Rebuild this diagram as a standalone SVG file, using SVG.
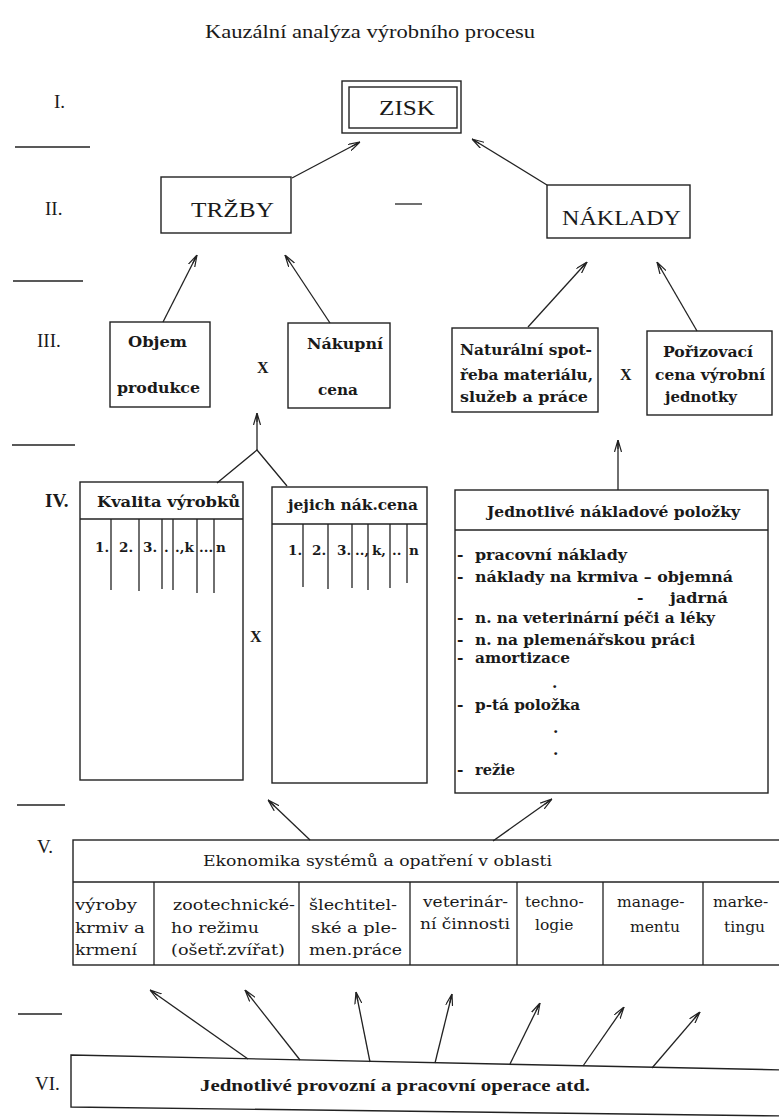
<svg xmlns="http://www.w3.org/2000/svg" width="779" height="1117" viewBox="0 0 779 1117">
<style>
  .bg{fill:#fff}
  .box{fill:#fff;stroke:#222;stroke-width:1.4}
  .ln{stroke:#222;stroke-width:1.3;fill:none}
  .arr{stroke:#222;stroke-width:1.3;fill:none;marker-end:url(#ah)}
  .t{font-family:"Liberation Serif","Times New Roman",serif;fill:#1a1a1a}
  .c{font-family:"DejaVu Serif","Liberation Serif",serif;fill:#1a1a1a;font-size:15.5px}
  .h{font-family:"DejaVu Serif","Liberation Serif",serif;fill:#1a1a1a;font-size:15px}
  .n{font-family:"DejaVu Serif","Liberation Serif",serif;fill:#1a1a1a;font-size:13.5px;font-weight:bold}
  .v{font-family:"DejaVu Serif","Liberation Serif",serif;fill:#1a1a1a;font-size:15.5px}
  .b{font-weight:bold}
  .lvl{font-size:19px}
  .big{font-size:22px}
  .x{font-family:"Liberation Serif","Times New Roman",serif;font-weight:bold;font-size:16px;fill:#1a1a1a}
</style>
<defs>
  <marker id="ah" viewBox="0 0 12 8" refX="12" refY="4" markerWidth="12" markerHeight="8" markerUnits="userSpaceOnUse" orient="auto">
    <path d="M0,0.5 L12,4 L0,7.5 M12,4 L3,4" fill="none" stroke="#222" stroke-width="1.2"/>
  </marker>
</defs>
<rect class="bg" x="0" y="0" width="779" height="1117"/>

<text class="t" x="205" y="38" font-size="18" textLength="330" lengthAdjust="spacingAndGlyphs">Kauzální analýza výrobního procesu</text>

<g id="levels">
  <text class="t lvl" x="54" y="108">I.</text>
  <text class="t lvl" x="45" y="215">II.</text>
  <text class="t lvl" x="37" y="347">III.</text>
  <text class="t lvl b" x="45" y="507">IV.</text>
  <text class="t lvl" x="37" y="853">V.</text>
  <text class="t lvl" x="35" y="1090">VI.</text>
  <line class="ln" x1="15" y1="147" x2="90" y2="147"/>
  <line class="ln" x1="13" y1="281" x2="83" y2="281"/>
  <line class="ln" x1="12" y1="445" x2="75" y2="445"/>
  <line class="ln" x1="17" y1="805" x2="65" y2="805"/>
  <line class="ln" x1="18" y1="1014" x2="62" y2="1014"/>
</g>

<g id="zisk">
  <rect class="box" x="342" y="81" width="119" height="52"/>
  <rect class="box" x="349" y="87" width="108" height="41"/>
  <text class="t big" x="379" y="115" textLength="56" lengthAdjust="spacingAndGlyphs">ZISK</text>
</g>

<g id="trzby">
  <rect class="box" x="161" y="177" width="130" height="56"/>
  <text class="t big" x="191" y="217" textLength="83" lengthAdjust="spacingAndGlyphs">TRŽBY</text>
</g>

<g id="minus">
  <line class="ln" x1="395" y1="204" x2="422" y2="204"/>
</g>

<g id="naklady">
  <rect class="box" x="547" y="185" width="143" height="53"/>
  <text class="t big" x="562" y="225" textLength="119" lengthAdjust="spacingAndGlyphs">NÁKLADY</text>
</g>

<g id="objem">
  <rect class="box" x="110" y="322" width="100" height="85"/>
  <text class="c b" x="128" y="347" textLength="59" lengthAdjust="spacingAndGlyphs">Objem</text>
  <text class="c b" x="117" y="393" textLength="83" lengthAdjust="spacingAndGlyphs">produkce</text>
</g>

<g id="x1"><text class="x" x="257" y="373">X</text></g>

<g id="nakupni">
  <rect class="box" x="288" y="323" width="102" height="85"/>
  <text class="c b" x="307" y="349" textLength="76" lengthAdjust="spacingAndGlyphs">Nákupní</text>
  <text class="c b" x="318" y="395" textLength="40" lengthAdjust="spacingAndGlyphs">cena</text>
</g>

<g id="naturalni">
  <rect class="box" x="452" y="328" width="146" height="84"/>
  <text class="c b" x="460" y="355" textLength="132" lengthAdjust="spacingAndGlyphs">Naturální spot-</text>
  <text class="c b" x="460" y="380" textLength="133" lengthAdjust="spacingAndGlyphs">řeba materiálu,</text>
  <text class="c b" x="460" y="402" textLength="128" lengthAdjust="spacingAndGlyphs">služeb  a práce</text>
</g>

<g id="x2"><text class="x" x="620" y="380">X</text></g>

<g id="porizovaci">
  <rect class="box" x="647" y="331" width="125" height="84"/>
  <text class="c b" x="663" y="357" textLength="90" lengthAdjust="spacingAndGlyphs">Pořizovací</text>
  <text class="c b" x="655" y="380" textLength="110" lengthAdjust="spacingAndGlyphs">cena výrobní</text>
  <text class="c b" x="665" y="402" textLength="72" lengthAdjust="spacingAndGlyphs">jednotky</text>
</g>

<g id="kvalita">
  <rect class="box" x="80" y="482" width="163" height="298"/>
  <line class="ln" x1="80" y1="519" x2="243" y2="519"/>
  <text class="h b" x="97" y="507" textLength="143" lengthAdjust="spacingAndGlyphs">Kvalita výrobků</text>
  <g class="ln">
    <line x1="111" y1="519" x2="111" y2="590"/>
    <line x1="139" y1="519" x2="139" y2="591"/>
    <line x1="162" y1="519" x2="162" y2="589"/>
    <line x1="173" y1="519" x2="173" y2="590"/>
    <line x1="197" y1="519" x2="197" y2="593"/>
    <line x1="214" y1="519" x2="214" y2="593"/>
  </g>
  <text class="n" x="95" y="552">1.</text>
  <text class="n" x="119" y="552">2.</text>
  <text class="n" x="143" y="552">3.</text>
  <text class="n" x="164" y="552">.</text>
  <text class="n" x="175" y="552">.,k</text>
  <text class="n" x="199" y="552">...</text>
  <text class="n" x="216" y="552">n</text>
</g>

<g id="x3"><text class="x" x="250" y="642">X</text></g>

<g id="jejich">
  <rect class="box" x="272" y="487" width="155" height="296"/>
  <line class="ln" x1="272" y1="524" x2="427" y2="524"/>
  <text class="h b" x="288" y="510" textLength="130" lengthAdjust="spacingAndGlyphs">jejich nák.cena</text>
  <g class="ln">
    <line x1="303" y1="524" x2="303" y2="587"/>
    <line x1="328" y1="524" x2="328" y2="589"/>
    <line x1="352" y1="524" x2="352" y2="588"/>
    <line x1="368" y1="524" x2="368" y2="590"/>
    <line x1="390" y1="524" x2="390" y2="588"/>
    <line x1="407" y1="524" x2="407" y2="583"/>
  </g>
  <text class="n" x="288" y="555">1.</text>
  <text class="n" x="312" y="555">2.</text>
  <text class="n" x="337" y="555">3.</text>
  <text class="n" x="355" y="555">..,</text>
  <text class="n" x="372" y="555">k,</text>
  <text class="n" x="392" y="555">..</text>
  <text class="n" x="409" y="555">n</text>
</g>

<g id="polozky">
  <rect class="box" x="455" y="490" width="313" height="303"/>
  <line class="ln" x1="455" y1="530" x2="768" y2="530"/>
  <text class="h b" x="487" y="517" textLength="253" lengthAdjust="spacingAndGlyphs">Jednotlivé nákladové položky</text>
  <g class="c b">
    <text x="457" y="560">-</text>
    <text x="475" y="560" textLength="152" lengthAdjust="spacingAndGlyphs">pracovní náklady</text>
    <text x="457" y="582">-</text>
    <text x="475" y="582" textLength="258" lengthAdjust="spacingAndGlyphs">náklady na krmiva – objemná</text>
    <text x="637" y="603">-</text>
    <text x="670" y="603" textLength="58" lengthAdjust="spacingAndGlyphs">jadrná</text>
    <text x="457" y="623">-</text>
    <text x="475" y="623" textLength="240" lengthAdjust="spacingAndGlyphs">n. na veterinární péči a léky</text>
    <text x="457" y="645">-</text>
    <text x="475" y="645" textLength="220" lengthAdjust="spacingAndGlyphs">n. na plemenářskou práci</text>
    <text x="457" y="663">-</text>
    <text x="475" y="663" textLength="95" lengthAdjust="spacingAndGlyphs">amortizace</text>
    <text x="552" y="688">.</text>
    <text x="457" y="710">-</text>
    <text x="475" y="710" textLength="105" lengthAdjust="spacingAndGlyphs">p-tá položka</text>
    <text x="553" y="733">.</text>
    <text x="553" y="755">.</text>
    <text x="457" y="775">-</text>
    <text x="475" y="775" textLength="40" lengthAdjust="spacingAndGlyphs">režie</text>
  </g>
</g>

<g id="ekonomika">
  <rect class="box" x="73" y="840" width="710" height="125"/>
  <line class="ln" x1="73" y1="882" x2="783" y2="882"/>
  <text class="v" x="203" y="866" textLength="349" lengthAdjust="spacingAndGlyphs">Ekonomika systémů a opatření v oblasti</text>
  <g class="ln">
    <line x1="154" y1="882" x2="154" y2="965"/>
    <line x1="299" y1="882" x2="299" y2="965"/>
    <line x1="410" y1="882" x2="410" y2="965"/>
    <line x1="517" y1="882" x2="517" y2="965"/>
    <line x1="603" y1="882" x2="603" y2="965"/>
    <line x1="703" y1="882" x2="703" y2="965"/>
  </g>
  <text class="v" x="75" y="910" textLength="62" lengthAdjust="spacingAndGlyphs">výroby</text>
  <text class="v" x="75" y="933" textLength="70" lengthAdjust="spacingAndGlyphs">krmiv a</text>
  <text class="v" x="75" y="955" textLength="62" lengthAdjust="spacingAndGlyphs">krmení</text>
  <text class="v" x="173" y="910" textLength="122" lengthAdjust="spacingAndGlyphs">zootechnické-</text>
  <text class="v" x="171" y="933" textLength="88" lengthAdjust="spacingAndGlyphs">ho režimu</text>
  <text class="v" x="171" y="955" textLength="114" lengthAdjust="spacingAndGlyphs">(ošetř.zvířat)</text>
  <text class="v" x="309" y="910" textLength="88" lengthAdjust="spacingAndGlyphs">šlechtitel-</text>
  <text class="v" x="311" y="933" textLength="86" lengthAdjust="spacingAndGlyphs">ské a ple-</text>
  <text class="v" x="309" y="955" textLength="93" lengthAdjust="spacingAndGlyphs">men.práce</text>
  <text class="v" x="423" y="907" textLength="85" lengthAdjust="spacingAndGlyphs">veterinár-</text>
  <text class="v" x="420" y="929" textLength="90" lengthAdjust="spacingAndGlyphs">ní činnosti</text>
  <text class="v" x="525" y="907">techno-</text>
  <text class="v" x="535" y="930">logie</text>
  <text class="v" x="617" y="907">manage-</text>
  <text class="v" x="630" y="932">mentu</text>
  <text class="v" x="713" y="907">marke-</text>
  <text class="v" x="724" y="932">tingu</text>
</g>

<g id="operace">
  <path class="box" d="M71,1055 L785,1070 L785,1116 L71,1107 Z"/>
  <text class="t b" x="200" y="1091" font-size="17" textLength="390" lengthAdjust="spacingAndGlyphs">Jednotlivé provozní a pracovní operace   atd.</text>
</g>

<g id="connectors">
  <line class="arr" x1="292" y1="178" x2="360" y2="142"/>
  <line class="arr" x1="547" y1="185" x2="472" y2="139"/>
  <line class="arr" x1="163" y1="322" x2="197" y2="255"/>
  <line class="arr" x1="330" y1="323" x2="285" y2="255"/>
  <line class="arr" x1="528" y1="327" x2="587" y2="262"/>
  <line class="arr" x1="697" y1="331" x2="657" y2="262"/>
  <polyline class="ln" points="217,483 257,450 287,486"/>
  <line class="arr" x1="257" y1="450" x2="257" y2="413"/>
  <line class="arr" x1="618" y1="490" x2="618" y2="440"/>
  <line class="arr" x1="310" y1="840" x2="268" y2="800"/>
  <line class="arr" x1="493" y1="841" x2="552" y2="799"/>
  <line class="arr" x1="248" y1="1059" x2="150" y2="990"/>
  <line class="arr" x1="300" y1="1060" x2="245" y2="990"/>
  <line class="arr" x1="370" y1="1062" x2="356" y2="992"/>
  <line class="arr" x1="435" y1="1063" x2="452" y2="994"/>
  <line class="arr" x1="510" y1="1064" x2="540" y2="1003"/>
  <line class="arr" x1="583" y1="1066" x2="624" y2="1007"/>
  <line class="arr" x1="652" y1="1068" x2="700" y2="1012"/>
</g>
</svg>
